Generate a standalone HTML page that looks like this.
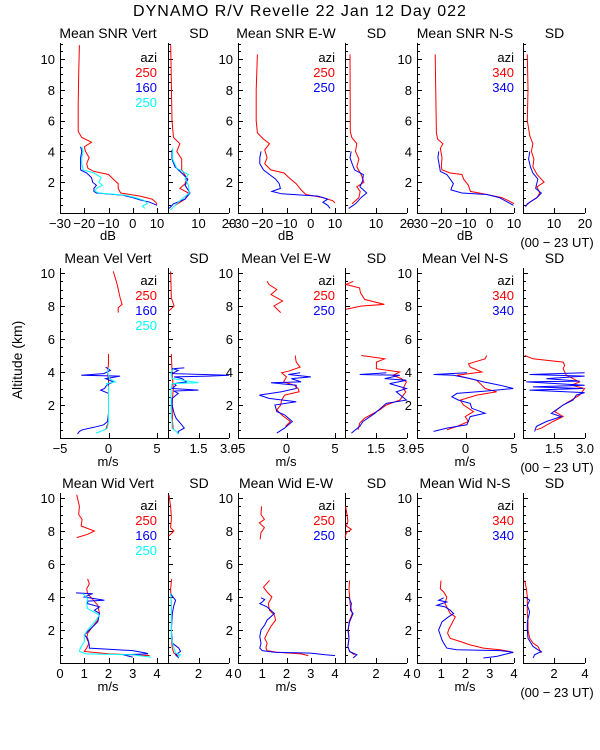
<!DOCTYPE html>
<html><head><meta charset="utf-8"><style>
html,body{margin:0;padding:0;background:#fff;}
svg{display:block;font-family:"Liberation Sans",sans-serif;}
</style></head><body>
<svg id="chart" width="600" height="750" viewBox="0 0 600 750" xmlns="http://www.w3.org/2000/svg">
<rect width="600" height="750" fill="#fff"/>
<text x="300" y="16" font-size="16" letter-spacing="1" text-anchor="middle">DYNAMO R/V Revelle  22 Jan 12 Day 022</text>
<text x="0" y="0" font-size="14" text-anchor="middle" transform="translate(22,360) rotate(-90)">Altitude (km)</text>
</svg>
<script>
// ---------- data (altitude km / value) ----------
const snrVertRedAlt=[10.9,9,7,5.3,4.9,4.6,4.3,4.0,3.6,3.2,2.9,2.7,2.5,2.2,1.9,1.6,1.3,1.1,0.9,0.7,0.55];
const snrVertRedVal=[-22,-22.3,-22.5,-22.5,-21,-17,-20,-19.5,-18,-19,-18.5,-16,-10,-8,-6,-6,-5,3,8,9.5,10];
const snrVertBlueAlt=[4.3,4.0,3.6,3.2,2.8,2.6,2.3,2.0,1.8,1.6,1.4,1.3,1.15,1.0,0.85,0.7,0.5];
const snrVertBlueVal=[-21.5,-21,-21.5,-21.5,-21.5,-19,-17,-16.5,-15,-16,-16,-15,-4,0,3,7,10];
const snrVertCyanAlt=[4.3,4.0,3.6,3.2,2.8,2.6,2.3,2.0,1.8,1.6,1.4,1.3,1.15,1.0,0.8,0.6,0.45,0.3];
const snrVertCyanVal=[-21,-20.5,-21,-21,-20.5,-16,-13,-14,-12.5,-15,-15.5,-14,-3,1,5,6,4,5];
const snrVertSdRedAlt=[10.9,6,4.9,4.5,4.0,3.5,2.8,2.3,1.9,1.6,1.3,0.9,0.5];
const snrVertSdRedVal=[0.9,1.3,1.8,3.9,2.9,4.5,4.5,6.1,5.6,3.9,6.7,5.6,2.3];
const snrVertSdBlueAlt=[4.1,3.5,3.0,2.6,2.2,1.8,1.3,0.9,0.6,0.3];
const snrVertSdBlueVal=[1.3,1.3,2.3,4.5,6.5,5.6,7.2,5.6,1.8,0.4];
const snrVertSdCyanAlt=[4.2,3.5,2.9,2.5,2.2,1.8,1.3,0.8,0.4,0.2];
const snrVertSdCyanVal=[1.5,1.5,2.9,6.7,5.6,6.7,7.0,3.9,1.8,0.8];
const snrEwRedAlt=[10.3,8,6,5.2,4.8,4.5,4.1,3.6,3.2,2.8,2.6,2.3,1.9,1.5,1.2,1.0,0.8,0.65];
const snrEwRedVal=[-22,-22.5,-22.5,-22,-19.5,-17,-19,-18,-19,-16.5,-11,-9,-6,-4,-2,5,9,10];
const snrEwBlueAlt=[4.0,3.6,3.2,2.8,2.5,2.2,1.9,1.6,1.4,1.25,1.1,0.9,0.7,0.5,0.3];
const snrEwBlueVal=[-20.5,-21,-21,-19.5,-17,-14.5,-13,-12.5,-16,-12,3,7,5,7,8];
const snrEwSdRedAlt=[10.3,5.3,4.9,4.5,4.0,3.5,3.0,2.5,2.0,1.7,1.4,1.0,0.6];
const snrEwSdRedVal=[1.6,1.7,2.2,3.8,3.4,4.5,3.8,5.2,6.1,3.8,4.9,4.5,2.3];
const snrEwSdBlueAlt=[4.0,3.6,3.2,2.8,2.5,2.1,1.7,1.3,1.0,0.6,0.3];
const snrEwSdBlueVal=[2.0,1.6,2.3,3.1,5.9,5.7,4.8,7.0,5.2,3.4,1.2];
const snrNsRedAlt=[10.3,5.2,4.8,4.5,4.2,3.6,3.0,2.8,2.6,2.5,2.2,1.8,1.4,1.2,1.0,0.8,0.6];
const snrNsRedVal=[-22.5,-22,-21.5,-19.3,-20.4,-19.7,-20,-19.7,-16.3,-11.5,-10.8,-8.8,-8,-1.2,5,7.7,10];
const snrNsBlueAlt=[4.0,3.6,3.0,2.7,2.5,2.2,1.9,1.7,1.5,1.3,1.2,1.0,0.8,0.5];
const snrNsBlueVal=[-21,-21.4,-20.7,-20.4,-17.7,-16.3,-15,-15.6,-16,-11.5,-1.2,4,6.3,9.7];
const snrNsSdRedAlt=[10.3,8,6,5,4.5,4.0,3.5,3.0,2.5,2.0,1.7,1.3,1.0,0.7,0.5];
const snrNsSdRedVal=[1.4,1.6,1.4,2.2,3.2,2.7,3.5,3.2,4.5,6.8,4.5,5.4,4.5,2.2,1.1];
const snrNsSdBlueAlt=[4.0,3.5,3.0,2.6,2.2,1.8,1.6,1.3,1.0,0.6,0.4];
const snrNsSdBlueVal=[2.2,1.8,2.4,3.2,4.8,4.3,4.1,5.9,4.5,1.4,0.8];

const velVertRedHiAlt=[10.1,9.3,8.5,8.1,7.9,7.6];
const velVertRedHiVal=[0.5,0.9,1.2,1.4,1.0,1.0];
const velVertRedLoAlt=[5.1,4.5,4.0,3.5,3.0,2.5,2.0,1.5,1.0,0.5];
const velVertRedLoVal=[0,0,-0.1,0,0,0,0,0,0,-0.3];
const velVertBlueAlt=[4.3,4.1,3.9,3.8,3.75,3.6,3.4,3.2,3.0,2.9,2.7,2.4,2.0,1.5,1.0,0.8,0.65,0.5,0.4,0.25];
const velVertBlueVal=[-0.3,0.2,-0.5,-2.8,1.2,-0.3,0.5,-0.2,-0.4,-0.8,0,0,0,0,-0.1,-0.5,-1.5,-2.7,-3,-3.2];
const velVertCyanAlt=[4.2,4.0,3.6,3.4,3.3,3.1,2.8,2.4,2.0,1.5,1.0,0.6,0.4,0.3];
const velVertCyanVal=[0,-0.1,0.1,0.7,-0.2,0,0,0,0,0,0,-0.1,-0.8,-1.3];
const velVertSdRedHiAlt=[10.1,9,8.5,8.0,7.7];
const velVertSdRedHiVal=[0.13,0.15,0.16,0.3,0.05];
const velVertSdRedLoAlt=[5.1,4,3,2,1,0.5];
const velVertSdRedLoVal=[0.16,0.2,0.26,0.2,0.22,0.26];
const velVertSdBlueAlt=[4.25,4.2,4.1,3.9,3.8,3.75,3.7,3.6,3.4,3.3,3.2,3.0,2.9,2.85,2.7,2.4,2.0,1.5,1.2,0.9,0.6,0.4,0.25];
const velVertSdBlueVal=[0.8,0.2,0.5,0.2,3.0,2.0,0.3,0.7,0.9,0.3,0.4,0.2,1.5,0.3,0.5,0.2,0.2,0.3,0.4,0.6,0.8,0.5,0.5];
const velVertSdCyanAlt=[4.2,4.0,3.6,3.35,3.3,3.0,2.5,2.0,1.5,1.0,0.6,0.4,0.25];
const velVertSdCyanVal=[0.3,0.15,0.2,1.5,0.2,0.15,0.15,0.15,0.15,0.2,0.2,0.4,0.5];
const velEwRedHiAlt=[9.5,9.3,9.0,8.7,8.3,8.0,7.6];
const velEwRedHiVal=[-2.0,-1.8,-1.0,-1.6,-0.4,-1.3,-0.6];
const velEwRedLoAlt=[5.0,4.6,4.3,4.05,3.95,3.7,3.4,3.2,3.0,2.8,2.6,2.3,2.0,1.7,1.4,1.0,0.7];
const velEwRedLoVal=[0.9,1.0,1.4,0.2,-0.5,0.0,-0.3,0.8,1.2,1.3,-0.2,-0.5,-0.6,-1.0,-0.5,0.4,-0.1];
const velEwBlueAlt=[3.95,3.85,3.7,3.6,3.4,3.35,3.2,3.0,2.8,2.6,2.4,2.2,2.0,1.6,1.4,1.0,0.6,0.3];
const velEwBlueVal=[1.4,0.2,2.5,0.5,1.5,-1.6,1.0,1.0,-0.5,-2.8,-1.8,1.0,-1.2,-1.0,-0.2,0.6,-0.2,-1.0];
const velEwSdRedHiAlt=[9.5,9.3,9.1,8.8,8.4,8.1,8.0,7.8];
const velEwSdRedHiVal=[0.4,0.05,0.7,0.75,0.95,1.9,0.8,0.05];
const velEwSdRedLoAlt=[5.0,4.8,4.6,4.2,4.0,3.8,3.6,3.4,3.0,2.8,2.3,2.0,1.7,1.2,0.9,0.5];
const velEwSdRedLoVal=[0.79,1.92,1.52,1.52,2.65,2.32,2.73,2.97,2.81,2.94,2.65,2.0,1.68,0.95,0.71,0.63];
const velEwSdBlueAlt=[3.95,3.85,3.8,3.6,3.5,3.3,3.0,2.8,2.3,2.1,1.5,1.0,0.7,0.3];
const velEwSdBlueVal=[2.0,0.71,2.65,1.92,2.97,2.16,2.97,2.48,2.97,2.0,1.44,0.87,0.71,0.31];
const velNsRedAlt=[5.0,4.8,4.5,4.3,4.0,3.8,3.5,3.2,3.0,2.8,2.6,2.3,2.0,1.8,1.6,1.3,1.0,0.7,0.5];
const velNsRedVal=[2.19,2.02,0.31,0.48,1.68,-0.89,1.16,1.68,2.02,3.22,1.16,-0.55,-0.21,0.31,0.82,-0.03,0.31,-0.89,-1.92];
const velNsBlueAlt=[3.95,3.85,3.8,3.6,3.4,3.2,3.0,2.85,2.7,2.5,2.3,2.1,1.8,1.5,1.3,0.8,0.6,0.4];
const velNsBlueVal=[0.14,-3.29,-1.23,0.48,1.85,3.56,4.93,2.19,-0.89,-1.4,-0.72,0.48,0.65,2.02,0.48,0.14,-1.92,-3.29];
const velNsSdRedAlt=[5.0,4.8,4.6,4.4,4.2,3.8,3.4,3.2,3.0,2.6,2.3,2.0,1.6,1.3,1.0,0.6,0.5];
const velNsSdRedVal=[0.08,0.48,1.94,2.02,1.94,2.1,2.74,2.34,2.98,2.74,2.34,1.94,1.53,1.94,1.45,0.89,0.65];
const velNsSdBlueAlt=[3.95,3.85,3.75,3.6,3.45,3.4,3.2,3.1,3.0,2.9,2.75,2.6,2.3,2.0,1.5,1.3,1.0,0.7,0.4];
const velNsSdBlueVal=[2.98,0.32,2.98,1.13,2.74,0.16,2.98,0.48,2.9,0.32,2.98,2.58,2.42,1.94,1.37,1.85,1.13,0.65,0.56];

const widVertRedHiAlt=[10.2,9.5,9.0,8.7,8.3,8.0,7.8,7.6];
const widVertRedHiVal=[0.69,0.8,0.77,0.91,0.87,1.42,1.14,0.69];
const widVertRedLoAlt=[5.1,4.8,4.5,4.2,3.8,3.5,3.0,2.6,2.2,1.8,1.5,1.2,0.9,0.7,0.55,0.45];
const widVertRedLoVal=[1.14,1.21,1.10,1.14,1.38,1.56,1.63,1.56,1.35,1.14,1.10,1.19,1.10,1.0,2.04,3.7];
const widVertBlueAlt=[4.25,4.2,4.0,3.8,3.75,3.6,3.4,3.2,3.0,2.5,2.0,1.7,1.5,1.1,0.9,0.75,0.6,0.55,0.5,0.35];
const widVertBlueVal=[0.66,1.35,1.0,1.83,1.14,1.14,1.63,1.42,1.63,1.56,1.21,1.0,1.14,1.21,1.21,3.0,3.56,3.63,2.6,3.0];
const widVertCyanAlt=[4.2,3.9,3.6,3.3,2.9,2.6,2.0,1.7,1.3,0.9,0.7,0.55,0.5,0.35];
const widVertCyanVal=[0.94,1.14,1.10,1.14,1.63,1.49,1.14,1.0,1.0,0.84,0.8,1.08,3.0,3.76];
const widVertSdRedHiAlt=[10.2,9.5,8.8,8.2,8.0,7.7];
const widVertSdRedHiVal=[0.06,0.17,0.22,0.17,0.39,0.06];
const widVertSdRedLoAlt=[5.1,4.5,3.5,2.5,1.5,0.9,0.6,0.4];
const widVertSdRedLoVal=[0.24,0.17,0.22,0.22,0.22,0.28,0.39,0.71];
const widVertSdBlueAlt=[4.2,3.8,3.5,3.0,2.0,1.2,0.9,0.7,0.5,0.3];
const widVertSdBlueVal=[0.17,0.5,0.39,0.28,0.22,0.28,0.71,0.82,0.5,0.71];
const widVertSdCyanAlt=[4.2,3.5,2.5,1.5,1.0,0.6,0.5,0.35];
const widVertSdCyanVal=[0.17,0.22,0.22,0.22,0.35,0.5,0.82,0.65];
const widEwRedHiAlt=[9.5,9.0,8.7,8.5,8.2,7.9,7.5];
const widEwRedHiVal=[0.97,0.95,1.09,0.88,1.09,0.95,0.91];
const widEwRedLoAlt=[5.0,4.6,4.3,4.0,3.6,3.2,2.9,2.6,2.2,1.8,1.5,1.2,0.9,0.75,0.65,0.55,0.45];
const widEwRedLoVal=[1.3,1.05,1.2,1.4,1.25,1.3,1.5,1.55,1.35,1.2,1.1,1.2,1.15,1.2,1.6,2.6,2.9];
const widEwBlueAlt=[3.95,3.85,3.7,3.6,3.4,3.2,3.0,2.6,2.3,2.0,1.6,1.2,0.9,0.75,0.65,0.6,0.5,0.45];
const widEwBlueVal=[0.95,1.1,1.0,0.9,1.2,1.35,1.5,1.2,1.1,0.95,0.9,0.95,0.9,1.0,1.5,3.0,3.6,4.0];
const widEwSdRedHiAlt=[9.5,9.0,8.6,8.3,8.1,7.9,7.6];
const widEwSdRedHiVal=[0.04,0.13,0.19,0.09,0.41,0.09,0];
const widEwSdRedLoAlt=[5.0,4.5,4.0,3.5,3.0,2.5,2.0,1.5,1.0,0.7,0.5];
const widEwSdRedLoVal=[0.3,0.26,0.3,0.34,0.47,0.26,0.22,0.26,0.19,0.3,0.62];
const widEwSdBlueAlt=[3.95,3.6,3.2,3.0,2.5,2.0,1.5,1.0,0.7,0.5,0.3];
const widEwSdBlueVal=[0.26,0.41,0.34,0.52,0.3,0.19,0.26,0.19,0.3,0.77,0.52];
const widNsRedAlt=[5.0,4.5,4.3,4.0,3.6,3.2,3.0,2.8,2.4,2.0,1.8,1.5,1.3,1.1,0.9,0.8,0.7,0.6];
const widNsRedVal=[0.99,0.96,1.1,1.23,1.16,1.3,1.37,1.58,1.44,1.3,1.26,1.37,1.78,2.19,2.74,3.42,3.84,3.97];
const widNsBlueAlt=[3.95,3.8,3.7,3.5,3.4,3.2,3.0,2.8,2.5,2.0,1.7,1.4,1.2,0.9,0.8,0.75,0.65,0.55,0.4,0.3];
const widNsBlueVal=[1.1,0.89,1.23,0.82,1.16,1.37,1.51,1.3,1.03,0.89,0.96,1.03,1.1,1.23,1.64,3.42,3.97,3.7,3.29,2.74];
const widNsSdRedAlt=[5.0,4.5,4.0,3.0,2.5,2.0,1.5,1.2,1.0,0.8,0.6];
const widNsSdRedVal=[0.11,0.22,0.28,0.28,0.32,0.32,0.43,0.65,0.97,1.08,1.18];
const widNsSdBlueAlt=[3.95,3.8,3.5,3.1,2.5,2.0,1.5,1.0,0.8,0.7,0.5,0.3];
const widNsSdBlueVal=[0.22,0.43,0.28,0.43,0.28,0.28,0.32,0.65,0.97,1.18,0.75,0.65];

// ticks / labels
const mainTicks=[[-30,-20,-10,0,10],[-5,0,5],[0,1,2,3,4]];
const mainTickLabels=[["\u221230","\u221220","\u221210","0","10"],["\u22125","0","5"],["0","1","2","3","4"]];
const sdTicks=[[10,20],[1.5,3.0],[2,4]];
const sdTickLabels=[["10","20"],["1.5","3.0"],["2","4"]];
const altTicks=[2,4,6,8,10];
const rowTitles=[["Mean SNR Vert","SD","Mean SNR E-W","SD","Mean SNR N-S","SD"],
 ["Mean Vel Vert","SD","Mean Vel E-W","SD","Mean Vel N-S","SD"],
 ["Mean Wid Vert","SD","Mean Wid E-W","SD","Mean Wid N-S","SD"]];
const unitLabels=["dB","m/s","m/s"];

// ---------- layout ----------
const RED="#ff0000",BLUE="#0000ff",CYAN="#00ffff";
const rows=[{bot:213,k:15.4,top:43,main:[-30,10],sd:[0,20],tb:38,lb:228,ub:240,utb:247,lg:62},
 {bot:438,k:16.5,top:268,main:[-5,5],sd:[0,3],tb:263,lb:453,ub:466,utb:472,lg:285},
 {bot:663,k:16.5,top:493,main:[0,4],sd:[0,4],tb:488,lb:678,ub:691,utb:697,lg:510}];
const cols=[{l:60,len:108,tw:97,sd:false},{l:168,len:61,tw:61,sd:true},{l:238,len:108,tw:97,sd:false},
 {l:345,len:62,tw:62,sd:true},{l:417,len:97,tw:97,sd:false},{l:523,len:62,tw:62,sd:true}];
const svg=document.getElementById('chart');
const NS="http://www.w3.org/2000/svg";
function mk(tag,attrs,parent){const e=document.createElementNS(NS,tag);for(const k in attrs)e.setAttribute(k,attrs[k]);(parent||svg).appendChild(e);return e;}
function yS(r,a){return rows[r].bot-a*rows[r].k;}
function xS(r,c,v){const C=cols[c];const rng=C.sd?rows[r].sd:rows[r].main;const hi=C.sd?rng[1]:mainTicks[r][mainTicks[r].length-1];return C.l+(v-rng[0])/(hi-rng[0])*C.tw;}

for(let r=0;r<3;r++){
 const R=rows[r];
 for(let c=0;c<6;c++){
  const C=cols[c];
  const g=mk('g',{});
  
  
  const ax=mk('path',{d:`M${C.l+0.5},${R.top}V${R.bot+0.5}H${C.l+C.len}`,stroke:'#000',fill:'none','stroke-width':1},g);
  
  
  let d='';
  const maxA=(R.bot-R.top)/R.k;
  for(let a=0.5;a<=maxA;a+=0.5){const y=Math.round(yS(r,a))+0.5;const L=(Math.abs(a-Math.round(a/2)*2)<0.01)?5:3;d+=`M${C.l},${y}h${L}`;}
  const ticks=C.sd?sdTicks[r]:mainTicks[r];
  ticks.forEach(v=>{const x=Math.round(xS(r,c,v))+0.5;d+=`M${x},${R.bot}v-5`;});
  const tk=mk('path',{d:d,stroke:'#000','stroke-width':1},g);
  
  
  if(!C.sd){
   altTicks.forEach(a=>{const t=mk('text',{x:C.l-5,y:yS(r,a)+5,'font-size':13,'text-anchor':'end'},g);t.textContent=a;
    
    });
  }
  const labs=C.sd?sdTickLabels[r]:mainTickLabels[r];
  ticks.forEach((v,i)=>{const t=mk('text',{x:xS(r,c,v),y:R.lb,'font-size':13,'text-anchor':'middle'},g);t.textContent=labs[i];
   
   });
  const tt=mk('text',{x:C.sd?C.l+C.tw/2+0.5:C.l+48,y:R.tb,'font-size':14,'text-anchor':'middle'},g);
  tt.textContent=rowTitles[r][c];
  
  
  if(!C.sd){
   const u=mk('text',{x:C.l+48,y:R.ub,'font-size':13,'text-anchor':'middle'},g);u.textContent=unitLabels[r];
   
   
   const lx=C.l+97;
   const items=c===0?[["azi","#000"],["250",RED],["160",BLUE],["250",CYAN]]:c===2?[["azi","#000"],["250",RED],["250",BLUE]]:[["azi","#000"],["340",RED],["340",BLUE]];
   items.forEach((it,i)=>{const t=mk('text',{x:lx,y:R.lg+i*15,'font-size':13,'text-anchor':'end',fill:it[1]},g);t.textContent=it[0];
    
    });
  }
 }
 const ut=mk('text',{x:557,y:R.utb,'font-size':13,'text-anchor':'middle'});
 ut.textContent='(00 \u2212 23 UT)';
 
 
}

const series=[
 [0,0,snrVertRedAlt,snrVertRedVal,RED],[0,0,snrVertBlueAlt,snrVertBlueVal,BLUE],[0,0,snrVertCyanAlt,snrVertCyanVal,CYAN],
 [0,1,snrVertSdRedAlt,snrVertSdRedVal,RED],[0,1,snrVertSdBlueAlt,snrVertSdBlueVal,BLUE],[0,1,snrVertSdCyanAlt,snrVertSdCyanVal,CYAN],
 [0,2,snrEwRedAlt,snrEwRedVal,RED],[0,2,snrEwBlueAlt,snrEwBlueVal,BLUE],
 [0,3,snrEwSdRedAlt,snrEwSdRedVal,RED],[0,3,snrEwSdBlueAlt,snrEwSdBlueVal,BLUE],
 [0,4,snrNsRedAlt,snrNsRedVal,RED],[0,4,snrNsBlueAlt,snrNsBlueVal,BLUE],
 [0,5,snrNsSdRedAlt,snrNsSdRedVal,RED],[0,5,snrNsSdBlueAlt,snrNsSdBlueVal,BLUE],
 [1,0,velVertRedHiAlt,velVertRedHiVal,RED],[1,0,velVertRedLoAlt,velVertRedLoVal,RED],[1,0,velVertBlueAlt,velVertBlueVal,BLUE],[1,0,velVertCyanAlt,velVertCyanVal,CYAN],
 [1,1,velVertSdRedHiAlt,velVertSdRedHiVal,RED],[1,1,velVertSdRedLoAlt,velVertSdRedLoVal,RED],[1,1,velVertSdBlueAlt,velVertSdBlueVal,BLUE],[1,1,velVertSdCyanAlt,velVertSdCyanVal,CYAN],
 [1,2,velEwRedHiAlt,velEwRedHiVal,RED],[1,2,velEwRedLoAlt,velEwRedLoVal,RED],[1,2,velEwBlueAlt,velEwBlueVal,BLUE],
 [1,3,velEwSdRedHiAlt,velEwSdRedHiVal,RED],[1,3,velEwSdRedLoAlt,velEwSdRedLoVal,RED],[1,3,velEwSdBlueAlt,velEwSdBlueVal,BLUE],
 [1,4,velNsRedAlt,velNsRedVal,RED],[1,4,velNsBlueAlt,velNsBlueVal,BLUE],
 [1,5,velNsSdRedAlt,velNsSdRedVal,RED],[1,5,velNsSdBlueAlt,velNsSdBlueVal,BLUE],
 [2,0,widVertRedHiAlt,widVertRedHiVal,RED],[2,0,widVertRedLoAlt,widVertRedLoVal,RED],[2,0,widVertBlueAlt,widVertBlueVal,BLUE],[2,0,widVertCyanAlt,widVertCyanVal,CYAN],
 [2,1,widVertSdRedHiAlt,widVertSdRedHiVal,RED],[2,1,widVertSdRedLoAlt,widVertSdRedLoVal,RED],[2,1,widVertSdBlueAlt,widVertSdBlueVal,BLUE],[2,1,widVertSdCyanAlt,widVertSdCyanVal,CYAN],
 [2,2,widEwRedHiAlt,widEwRedHiVal,RED],[2,2,widEwRedLoAlt,widEwRedLoVal,RED],[2,2,widEwBlueAlt,widEwBlueVal,BLUE],
 [2,3,widEwSdRedHiAlt,widEwSdRedHiVal,RED],[2,3,widEwSdRedLoAlt,widEwSdRedLoVal,RED],[2,3,widEwSdBlueAlt,widEwSdBlueVal,BLUE],
 [2,4,widNsRedAlt,widNsRedVal,RED],[2,4,widNsBlueAlt,widNsBlueVal,BLUE],
 [2,5,widNsSdRedAlt,widNsSdRedVal,RED],[2,5,widNsSdBlueAlt,widNsSdBlueVal,BLUE]
];
series.forEach(s=>{
 const [r,c,alt,val,col]=s;
 const pts=alt.map((a,i)=>xS(r,c,val[i]).toFixed(1)+','+yS(r,a).toFixed(1)).join(' ');
 const pl=mk('polyline',{points:pts,fill:'none',stroke:col,'stroke-width':1});
 
 
});
</script>
</body></html>
